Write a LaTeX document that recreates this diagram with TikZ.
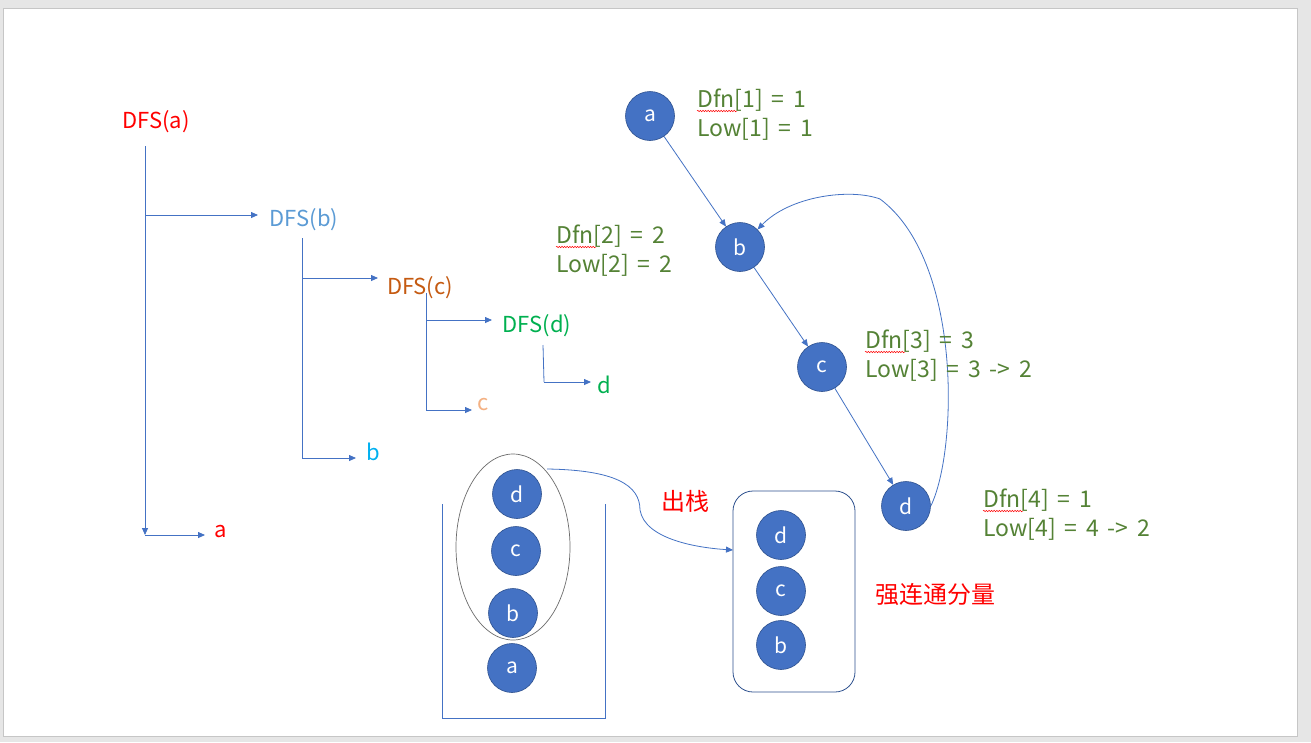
\documentclass[tikz,border=0pt]{standalone}
\usepackage{fontspec}
\setmainfont{Noto Sans CJK SC}
\usetikzlibrary{arrows.meta,decorations.pathmorphing,shapes.geometric}
\definecolor{lineblue}{HTML}{4472C4}
\definecolor{nodefill}{HTML}{4472C4}
\definecolor{nodeborder}{HTML}{2F528F}
\definecolor{labgreen}{HTML}{548235}
\definecolor{dfsb}{HTML}{5B9BD5}
\definecolor{dfsc}{HTML}{C55A11}
\definecolor{dfsd}{HTML}{00B050}
\definecolor{leafb}{HTML}{00B0F0}
\definecolor{leafc}{HTML}{F4B183}
\definecolor{slidebg}{HTML}{E6E6E6}
\definecolor{slideedge}{HTML}{C6C6C6}
\newcommand{\myinfofont}{\fontsize{23}{29}\selectfont\spaceskip 0.38em plus 0.1em\relax}
\tikzset{
  arr/.style={draw=lineblue, line width=0.8pt, -{Triangle[length=7pt,width=6pt]}},
  plain/.style={draw=lineblue, line width=0.8pt},
  vert/.style={circle, fill=nodefill, draw=nodeborder, line width=0.6pt, minimum size=49pt, inner sep=0pt, text=white, font=\fontsize{21}{24}\selectfont},
  calltext/.style={font=\fontsize{22}{26}\selectfont, inner sep=1pt},
  info/.style={font=\myinfofont, text=labgreen, align=left, anchor=west, inner sep=0pt},
  squig/.style={draw=red, line width=0.5pt, decorate, decoration={snake, amplitude=0.7pt, segment length=2.6pt}},
  redtext/.style={font=\fontsize{24}{28}\selectfont, text=red, inner sep=0pt}
}
\begin{document}
\begin{tikzpicture}[x=1pt,y=-1pt]
\useasboundingbox (0,0) rectangle (1311,742);
\fill[slidebg] (0,0) rectangle (1311,742);
\filldraw[fill=white, draw=slideedge, line width=0.8pt] (3,8) rectangle (1297,736);

% ---- DFS call tree ----
\node[calltext, text=red] (DFSa) at (156,122) {DFS(a)};
\node[calltext, text=dfsb] (DFSb) at (304,220) {DFS(b)};
\node[calltext, text=dfsc] (DFSc) at (420,288) {DFS(c)};
\node[calltext, text=dfsd] (DFSd) at (537,326) {DFS(d)};
\node[calltext, text=red] (La) at (221,532) {a};
\node[calltext, text=leafb] (Lb) at (373,452) {b};
\node[calltext, text=leafc] (Lc) at (483,405) {c};
\node[calltext, text=dfsd] (Ld) at (604,385) {d};

\coordinate (a0) at (145,146);
\coordinate (a1) at (145,215);
\coordinate (a2) at (145,535);
\coordinate (a1e) at (258,215);
\coordinate (a2e) at (205,535);
\draw[arr] (a0) -- (a2);
\draw[arr] (a1) -- (a1e);
\draw[arr] (a2) -- (a2e);

\coordinate (b0) at (302,238);
\coordinate (b1) at (302,278);
\coordinate (b2) at (302,458);
\coordinate (b1e) at (378,278);
\coordinate (b2e) at (356,458);
\draw[plain] (b0) -- (b2);
\draw[arr] (b1) -- (b1e);
\draw[arr] (b2) -- (b2e);

\coordinate (c0) at (426,293);
\coordinate (c1) at (426,320);
\coordinate (c2) at (426,410);
\coordinate (c1e) at (492,320);
\coordinate (c2e) at (472,410);
\draw[plain] (c0) -- (c2);
\draw[arr] (c1) -- (c1e);
\draw[arr] (c2) -- (c2e);

\coordinate (d0) at (543,345);
\coordinate (d1) at (544,382);
\coordinate (d1e) at (591,382);
\draw[plain] (d0) -- (d1);
\draw[arr] (d1) -- (d1e);

% ---- graph ----
\node[vert] (ga) at (650,116) {a};
\node[vert] (gb) at (740,247) {b};
\node[vert] (gc) at (822,367) {c};
\node[vert] (gd) at (906,506) {d};
\draw[arr] (ga) -- (gb);
\draw[arr] (gb) -- (gc);
\draw[arr] (gc) -- (gd);
\draw[arr] (gd.east) .. controls (958,450) and (962,260) .. (880,199)
  .. controls (850,188) and (790,196) .. (gb.north east);

\node[info] (i1) at (697,114.5) {Dfn[1] = 1\\Low[1] = 1};
\node[info] (i2) at (556,250.5) {Dfn[2] = 2\\Low[2] = 2};
\node[info] (i3) at (865,355.5) {Dfn[3] = 3\\Low[3] = 3 -> 2};
\node[info] (i4) at (983,514.5) {Dfn[4] = 1\\Low[4] = 4 -> 2};
\draw[squig] (697,111) -- (737,111);
\draw[squig] (556,247) -- (596,247);
\draw[squig] (865,352) -- (905,352);
\draw[squig] (983,511) -- (1023,511);

% ---- stack ----
\coordinate (s0) at (442,504);
\coordinate (s1) at (442,718);
\coordinate (s2) at (605,718);
\coordinate (s3) at (605,504);
\draw[plain] (s0) -- (s1) -- (s2) -- (s3);
\node[vert] (sd) at (517,494) {d};
\node[vert] (sc) at (516,551) {c};
\node[vert] (sb) at (513,613) {b};
\node[vert] (sa) at (512,668) {a};
\node[draw=gray!85!black, line width=0.7pt, ellipse, minimum width=114pt, minimum height=186pt, inner sep=0pt] (ell) at (513,547) {};

% ---- SCC box ----
\node[draw=nodeborder, line width=0.8pt, rounded corners=20pt, minimum width=122pt, minimum height=201pt, inner sep=0pt] (box) at (794,591.5) {};
\node[vert] (kd) at (781,535) {d};
\node[vert] (kc) at (781,591) {c};
\node[vert] (kb) at (781,645) {b};

\coordinate (pop0) at (547,469);
\coordinate (pop1) at (733,550);
\draw[arr] (pop0) .. controls (615,470) and (640,485) .. (640,510)
  .. controls (645,540) and (700,548) .. (pop1);

\node[redtext] (pop) at (685,501) {出栈};
\node[redtext] (scc) at (935,594) {强连通分量};
\end{tikzpicture}
\end{document}
